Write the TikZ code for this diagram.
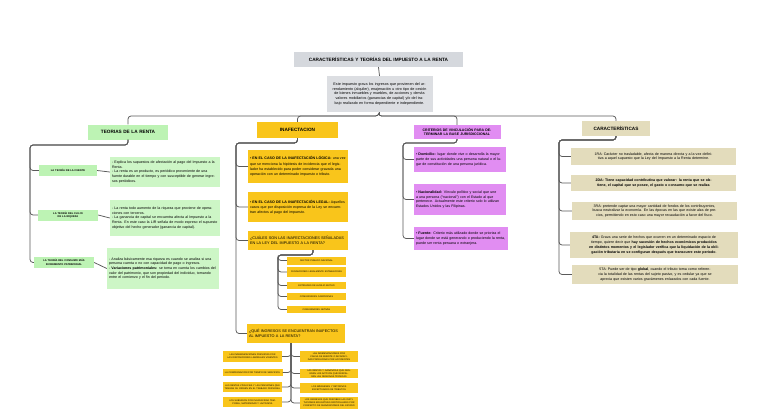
\documentclass[tikz,border=0pt]{standalone}
\usepackage{fontspec}
\setmainfont{Liberation Sans}
\definecolor{tgray}{HTML}{D5D8DD}
\definecolor{dgray}{HTML}{DCDEE2}
\definecolor{gra}{HTML}{BDF3B4}
\definecolor{grb}{HTML}{CDF6C6}
\definecolor{yel}{HTML}{F9C51B}
\definecolor{pur}{HTML}{E18DF2}
\definecolor{tanc}{HTML}{E3DCBC}
\definecolor{ln}{HTML}{5A5A5A}
\begin{document}
\begin{tikzpicture}[x=1pt,y=-1pt,
  conn/.style={draw=ln,line width=0.75pt,rounded corners=3pt},
  bx/.style n args={3}{minimum width=#1,minimum height=#2,text width=#3,inner xsep=1.5pt,inner ysep=0.5pt,anchor=center},
  head/.style={font=\fontsize{4.7}{5.6}\selectfont\bfseries,align=center},
  tiny/.style={font=\fontsize{2.6}{3.3}\selectfont\bfseries,align=center},
  small/.style={font=\fontsize{3.6}{4.6}\selectfont,align=left},
  yb/.style={font=\fontsize{3.6}{5.2}\selectfont,align=left,fill=yel},
  yi/.style={font=\fontsize{2.3}{3}\selectfont,align=center,fill=yel},
  rb/.style={font=\fontsize{3.6}{4.8}\selectfont,align=center,fill=tanc},
  pb/.style={font=\fontsize{3.6}{4.9}\selectfont,align=left,fill=pur}
]
\useasboundingbox[fill=white] (0,0) rectangle (768,410);

% top
\node[bx={169pt}{15pt}{165pt},head,fill=tgray] (title) at (378.5,59.5) {CARACTERÍSTICAS Y TEORÍAS DEL IMPUESTO A LA RENTA};
\node[bx={106pt}{36pt}{102pt},font=\fontsize{3.7}{4.9}\selectfont,align=center,fill=dgray] (desc) at (379.5,94) {Este impuesto grava los ingresos que provienen del arrendamiento (alquiler), enajenación u otro tipo de cesión de bienes inmuebles y muebles, de acciones y demás valores mobiliarios (ganancias de capital) y/o del trabajo realizado en forma dependiente e independiente.};
\draw[conn] (title.south) -- (desc.north);

% headings
\node[bx={80pt}{15pt}{76pt},head,fill=gra] (teo) at (128,132) {TEORIAS DE LA RENTA};
\node[bx={81pt}{16pt}{77pt},head,fill=yel] (inaf) at (297.5,130) {INAFECTACION};
\node[bx={87pt}{14pt}{83pt},font=\fontsize{3.5}{4.6}\selectfont\bfseries,align=center,fill=pur] (cri) at (457,132) {CRITERIOS DE VINCULACIÓN PARA DETERMINAR LA BASE JURISDICCIONAL};
\node[bx={68pt}{15pt}{64pt},head,fill=tanc] (car) at (616,128.5) {CARACTERÍSTICAS};

\coordinate (bus) at (378.5,116);
\draw[conn] (desc.south) -- (bus) -| (teo.north);
\draw[conn] (desc.south) -- (bus) -| (inaf.north);
\draw[conn] (desc.south) -- (bus) -| (cri.north);
\draw[conn] (desc.south) -- (bus) -| (car.north);

% left column
\node[bx={58pt}{11pt}{55pt},tiny,fill=gra] (t1) at (68,170.5) {LA TEORÍA DE LA FUENTE};
\node[bx={60pt}{11pt}{44pt},tiny,fill=gra] (t2) at (68,215) {LA TEORÍA DEL FLUJO DE LA RIQUEZA};
\node[bx={60pt}{11pt}{50pt},tiny,fill=gra] (t3) at (64,262.5) {LA TEORÍA DEL CONSUMO MÁS INCREMENTO PATRIMONIAL};
\node[bx={110pt}{30pt}{106pt},small,fill=grb] (d1) at (165,172) {- Explica los supuestos de afectación al pago del Impuesto a la Renta.\\- La renta es un producto, es periódico proveniente de una fuente durable en el tiempo y con susceptible de generar ingresos periódicos.};
\node[bx={110pt}{36pt}{106pt},small,fill=grb] (d2) at (165,218) {- La renta todo aumento de la riqueza que proviene de operaciones con terceros.\\- La ganancia de capital se encuentra afecta al Impuesto a la Renta. En este caso la LIR señala de modo expreso el supuesto objetivo del hecho generador (ganancia de capital).};
\node[bx={112pt}{41pt}{108pt},small,fill=grb] (d3) at (163,268.5) {- Analiza básicamente esa riqueza es cuando se analiza si una persona cuenta o no con capacidad de pago o ingresos.\\- \textbf{Variaciones patrimoniales:} se toma en cuenta los cambios del valor del patrimonio, que son propiedad del individuo, tomando entre el comienzo y el fin del periodo.};
\coordinate (lt) at (30,145);
\foreach \n in {t1,t2,t3} \draw[conn] (teo.south) |- (lt) |- (\n.west);
\draw[conn] (t1.east) -- (d1.west);
\draw[conn] (t2.east) -- (d2.west);
\draw[conn] (t3.east) -- (d3.west);

% middle column
\node[bx={100pt}{33pt}{96pt},yb] (ya) at (298,166.5) {• \textbf{EN EL CASO DE LA INAFECTACIÓN LÓGICA:} una vez que se menciona la hipótesis de incidencia que el legislador ha establecido para poder considerar gravada una operación con un determinado impuesto o tributo.};
\node[bx={100pt}{30pt}{96pt},yb] (yb) at (298,207) {• \textbf{EN EL CASO DE LA INAFECTACIÓN LEGAL:} Aquellos casos que por disposición expresa de la Ley se encuentran afectos al pago del impuesto.};
\node[bx={100pt}{19pt}{96pt},yb,font=\fontsize{3.8}{5}\selectfont] (yc) at (298,240.5) {¿CUÁLES SON LAS INAFECTACIONES SEÑALADAS EN LA LEY DEL IMPUESTO A LA RENTA?};
\node[bx={98pt}{19pt}{94pt},yb,font=\fontsize{3.8}{5}\selectfont] (yd) at (296,333.5) {¿QUÉ INGRESOS SE ENCUENTRAN INAFECTOS AL IMPUESTO A LA RENTA?};
\coordinate (mt) at (236,143);
\foreach \n in {ya,yb,yc,yd} \draw[conn] (inaf.south) |- (mt) |- (\n.west);

\node[bx={59pt}{8pt}{56pt},yi] (i1) at (316.5,260.5) {SECTOR PÚBLICO NACIONAL};
\node[bx={59pt}{10pt}{56pt},yi] (i2) at (316.5,272) {FUNDACIONES LEGALMENTE ESTABLECIDAS};
\node[bx={59pt}{7pt}{56pt},yi] (i3) at (316.5,285.5) {ENTIDADES DE AUXILIO MUTUO};
\node[bx={59pt}{7pt}{56pt},yi] (i4) at (316.5,296.5) {COMUNIDADES CAMPESINAS};
\node[bx={59pt}{7pt}{56pt},yi] (i5) at (316.5,309.5) {COMUNIDADES NATIVAS};
\coordinate (cs) at (313,250);
\coordinate (ct) at (278,255);
\foreach \n in {i1,i2,i3,i4,i5} \draw[conn] (cs) |- (ct) |- (\n.west);

\node[bx={59pt}{11pt}{56pt},yi] (l1) at (252.5,356.5) {LAS INDEMNIZACIONES PREVISTAS POR LAS DISPOSICIONES LABORALES VIGENTES};
\node[bx={59pt}{7pt}{57pt},yi] (l2) at (252.5,372.5) {LA COMPENSACIÓN POR TIEMPO DE SERVICIOS};
\node[bx={59pt}{10pt}{56pt},yi] (l3) at (252.5,387) {LAS RENTAS VITALICIAS Y LAS PENSIONES QUE TENGAN SU ORIGEN EN EL TRABAJO PERSONAL};
\node[bx={59pt}{10pt}{56pt},yi] (l4) at (252.5,402) {LOS SUBSIDIOS POR INCAPACIDAD TEMPORAL, MATERNIDAD Y LACTANCIA};
\node[bx={58pt}{11pt}{55pt},yi] (r1) at (329,356.5) {LAS INDEMNIZACIONES POR CAUSA DE MUERTE O INCAPACIDAD PRODUCIDAS POR ACCIDENTES};
\node[bx={58pt}{9pt}{55pt},yi] (r2) at (329,373.5) {LAS RENTAS Y GANANCIAS QUE GENERAN LOS ACTIVOS QUE RESPALDAN LAS RESERVAS TÉCNICAS};
\node[bx={58pt}{10pt}{55pt},yi] (r3) at (329,388) {LOS MÁRGENES Y RETORNOS EXCEPTUADOS DE TRIBUTOS};
\node[bx={58pt}{12pt}{55pt},yi] (r4) at (329,403) {LOS INGRESOS QUE PERCIBEN LAS INSTITUCIONES EDUCATIVAS PARTICULARES POR CONCEPTO DE SUBVENCIONES DEL ESTADO};
\coordinate (ds) at (291,343);
\foreach \n in {r1,r2,r3,r4} \draw[conn] (ds) |- (\n.west);
\foreach \n in {l1,l2,l3,l4} \draw[conn] (ds) |- (\n.east);

% purple column
\node[bx={92pt}{25pt}{88pt},pb] (p1) at (460,159.5) {• \textbf{Domicilio:} lugar donde vive o desarrolla la mayor parte de sus actividades una persona natural o el lugar de constitución de una persona jurídica.};
\node[bx={92pt}{31pt}{88pt},pb] (p2) at (460,199.5) {• \textbf{Nacionalidad:} Vínculo político y social que une a una persona (``nacional'') con el Estado al que pertenece. Actualmente este criterio solo lo utilizan Estados Unidos y las Filipinas.};
\node[bx={94pt}{23pt}{90pt},pb] (p3) at (461,238.5) {• \textbf{Fuente:} Criterio más utilizado donde se prioriza el lugar donde se está generando o produciendo la renta, puede ser renta peruana o extranjera.};
\coordinate (pt) at (403,143);
\foreach \n in {p1,p2,p3} \draw[conn] (cri.south) |- (pt) |- (\n.west);

% right column
\node[bx={165pt}{17pt}{159pt},rb] (k1) at (653.5,156.5) {1RA: Carácter no trasladable, afecta de manera directa y a la vez definitiva a aquel supuesto que la Ley del Impuesto a la Renta determine.};
\node[bx={165pt}{16pt}{159pt},rb] (k2) at (653.5,183) {\textbf{2DA: Tiene capacidad contributiva que valorar: la renta que se obtiene, el capital que se posee, el gasto o consumo que se realiza}};
\node[bx={165pt}{18pt}{159pt},rb] (k3) at (654.5,211) {3RA: pretende captar una mayor cantidad de fondos de los contribuyentes, busca neutralizar la economía. En las épocas en las que existe alza de precios, permitiendo en esto caso una mayor recaudación a favor del fisco.};
\node[bx={168pt}{26pt}{162pt},rb] (k4) at (654,245) {\textbf{4TA:} Grava una serie de hechos que ocurren en un determinado espacio de tiempo, quiere decir que \textbf{hay sucesión de hechos económicos producidos en distintos momentos y el legislador verifica que la liquidación de la obligación tributaria en se configuran después que transcurre este periodo}.};
\node[bx={166pt}{19pt}{160pt},rb] (k5) at (655,274.5) {5TA: Puede ser de tipo \textbf{global}, cuando el tributo toma como referencia la totalidad de las rentas del sujeto pasivo, y es cedular ya que se aprecia que existen varios gravámenes enlazados con cada fuente.};
\coordinate (rt) at (559,140);
\foreach \n in {k1,k2,k3,k4,k5} \draw[conn] (car.south) |- (rt) |- (\n.west);
\end{tikzpicture}
\end{document}
